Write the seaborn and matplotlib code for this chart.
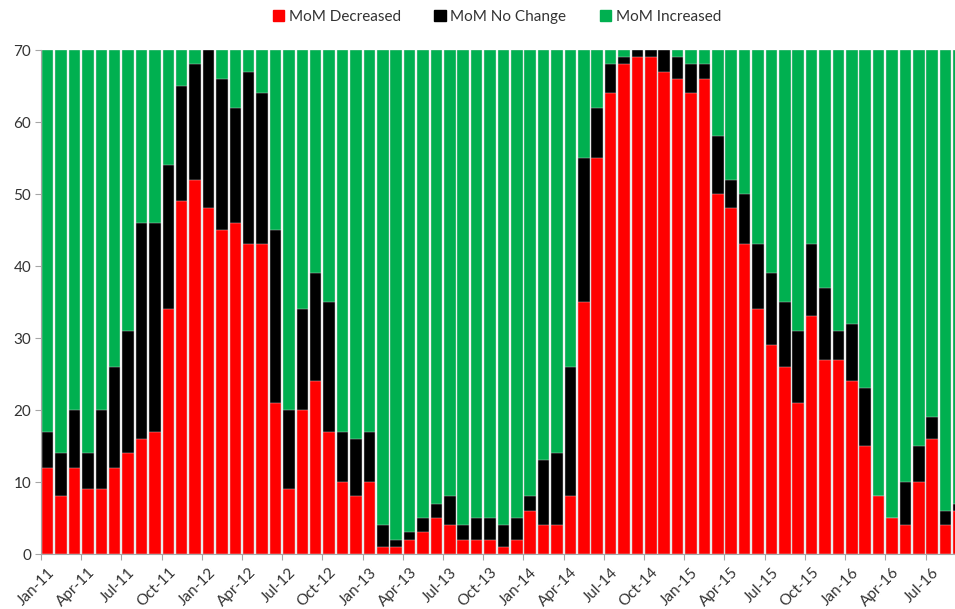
import matplotlib
matplotlib.use("Agg")
import matplotlib.pyplot as plt
from matplotlib.patches import Patch
import seaborn as sns
import numpy as np
import pandas as pd

months = [f"{m}-{y}" for y in range(11, 17) for m in
          ["Jan", "Feb", "Mar", "Apr", "May", "Jun", "Jul", "Aug", "Sep", "Oct", "Nov", "Dec"]][:69]

decreased = [12, 8, 12, 9, 9, 12, 14, 16, 17, 34, 49, 52, 48, 45, 46, 43, 43, 21, 9, 20,
             24, 17, 10, 8, 10, 1, 1, 2, 3, 5, 4, 2, 2, 2, 1, 2, 6, 4, 4, 8,
             35, 55, 64, 68, 69, 69, 67, 66, 64, 66, 50, 48, 43, 34, 29, 26, 21, 33, 27, 27,
             24, 15, 8, 5, 4, 10, 16, 4, 6]
no_change = [5, 6, 8, 5, 11, 14, 17, 30, 29, 20, 16, 16, 22, 21, 16, 24, 21, 24, 11, 14,
             15, 18, 7, 8, 7, 3, 1, 1, 2, 2, 4, 2, 3, 3, 3, 3, 2, 9, 10, 18,
             20, 7, 4, 1, 1, 1, 3, 3, 4, 2, 8, 4, 7, 9, 10, 9, 10, 10, 10, 4,
             8, 8, 0, 0, 6, 5, 3, 2, 1]
increased = [53, 56, 50, 56, 50, 44, 39, 24, 24, 16, 5, 2, 0, 4, 8, 3, 6, 25, 50, 36,
             31, 35, 53, 54, 53, 66, 68, 67, 65, 63, 62, 66, 65, 65, 66, 65, 62, 57, 56, 44,
             15, 8, 2, 1, 0, 0, 0, 1, 2, 2, 12, 18, 20, 27, 31, 35, 39, 27, 33, 39,
             38, 47, 62, 65, 60, 55, 51, 64, 63]

series_names = ["MoM Decreased", "MoM No Change", "MoM Increased"]
series_colors = ["#FF0000", "#000000", "#00B050"]

df = pd.DataFrame({"month": months, "dec": decreased, "nc": no_change, "inc": increased})
df["top_nc"] = df["dec"] + df["nc"]
df["top_inc"] = df["top_nc"] + df["inc"]

sns.set_theme(style="white")
plt.rcParams["font.family"] = ["Lato", "DejaVu Sans"]

fig = plt.figure(figsize=(9.55, 6.09), dpi=100)
ax = fig.add_axes([41 / 955, 55 / 609, 1 - 41 / 955, (554 - 50) / 609])

bw = 0.86
for col, color in zip(["top_inc", "top_nc", "dec"], series_colors[::-1]):
    sns.barplot(data=df, x="month", y=col, color=color, width=bw, ax=ax,
                saturation=1, edgecolor="#D9D9D9", linewidth=0.3, order=months)

ax.set_xlim(-0.5, 67.7)
ax.set_ylim(0, 70)
ax.set_xlabel("")
ax.set_ylabel("")
ax.set_yticks(range(0, 71, 10))
ax.tick_params(axis="y", labelsize=11, colors="#333333", length=4, width=0.8,
               left=True, direction="out", pad=3)
ax.tick_params(axis="y", color="#A6A6A6")

label_pos = list(range(0, 69, 3))
ax.set_xticks(label_pos)
ax.set_xticklabels([months[i] for i in label_pos], rotation=45, ha="right",
                   rotation_mode="anchor", fontsize=11, color="#333333")
ax.tick_params(axis="x", which="major", length=0, pad=8)
ax.set_xticks([i - 0.5 for i in label_pos], minor=True)
ax.tick_params(axis="x", which="minor", length=4, width=0.8, color="#A6A6A6",
               bottom=True, direction="out")

for s in ["top", "right"]:
    ax.spines[s].set_visible(False)
for s in ["left", "bottom"]:
    ax.spines[s].set_color("#A6A6A6")
    ax.spines[s].set_linewidth(0.8)

handles = [Patch(facecolor=c, edgecolor=c, label=n) for n, c in zip(series_names, series_colors)]
fig.legend(handles=handles, loc="center", bbox_to_anchor=(497 / 955, 1 - 17 / 609),
           ncol=3, frameon=False, fontsize=11, handlelength=0.75, handleheight=0.75,
           handletextpad=0.3, columnspacing=2.2, labelcolor="#333333")

fig.savefig("out.png", dpi=100)
